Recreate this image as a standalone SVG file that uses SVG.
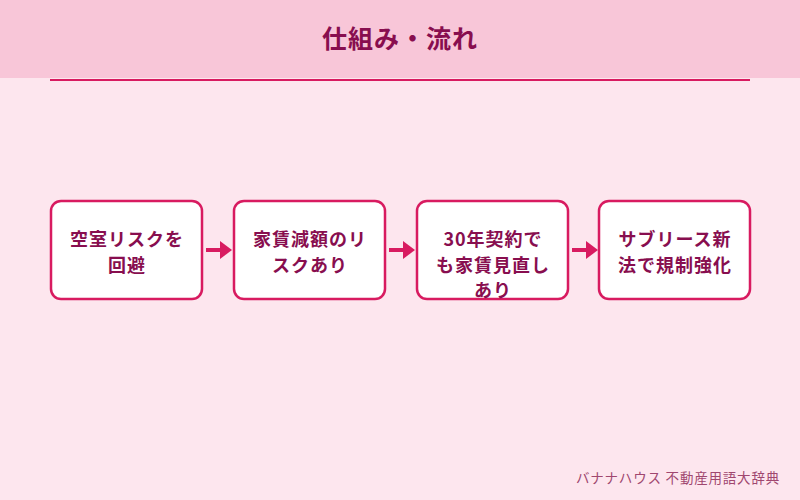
<svg xmlns="http://www.w3.org/2000/svg" width="800" height="500" viewBox="0 0 800 500">
<style>
.box{fill:#ffffff;stroke:#d81b60;stroke-width:2.5}
.t{font-family:"Noto Sans CJK JP","Noto Sans",sans-serif;font-weight:bold;font-size:18px;fill:#880e4f;text-anchor:middle;letter-spacing:1px}
.title{font-family:"Noto Sans CJK JP","Noto Sans",sans-serif;font-weight:bold;font-size:25px;fill:#880e4f;text-anchor:middle;letter-spacing:1px}
.foot{font-family:"Noto Sans CJK JP","Noto Sans",sans-serif;font-size:13.5px;fill:#a0476f;text-anchor:end;letter-spacing:0.8px}
.arrow{stroke:#d81b60;stroke-width:4;fill:none}
.head{fill:#d81b60}
</style>
<rect width="800" height="500" fill="#fde6ee"/>
<rect width="800" height="78" fill="#f8c6d8"/>
<text class="title" x="400" y="48">仕組み・流れ</text>
<rect x="50" y="79" width="700" height="2" fill="#d81b60"/>
<g id="connectors">
<line class="arrow" x1="206" y1="250" x2="222" y2="250"/><polygon class="head" points="220,241 232,250 220,259"/>
<line class="arrow" x1="389" y1="250" x2="405" y2="250"/><polygon class="head" points="403,241 415,250 403,259"/>
<line class="arrow" x1="572" y1="250" x2="588" y2="250"/><polygon class="head" points="586,241 598,250 586,259"/>
</g>
<g id="n1"><rect class="box" x="51" y="201" width="151" height="98" rx="10"/>
<text class="t" x="127" y="246">空室リスクを</text><text class="t" x="127" y="272">回避</text></g>
<g id="n2"><rect class="box" x="234" y="201" width="151" height="98" rx="10"/>
<text class="t" x="310" y="246">家賃減額のリ</text><text class="t" x="310" y="272">スクあり</text></g>
<g id="n3"><rect class="box" x="417" y="201" width="151" height="98" rx="10"/>
<text class="t" x="493" y="246">30年契約で</text><text class="t" x="493" y="272">も家賃見直し</text><text class="t" x="493" y="297">あり</text></g>
<g id="n4"><rect class="box" x="599" y="201" width="151" height="98" rx="10"/>
<text class="t" x="675" y="246">サブリース新</text><text class="t" x="675" y="272">法で規制強化</text></g>
<text class="foot" x="780" y="483">バナナハウス 不動産用語大辞典</text>
</svg>
